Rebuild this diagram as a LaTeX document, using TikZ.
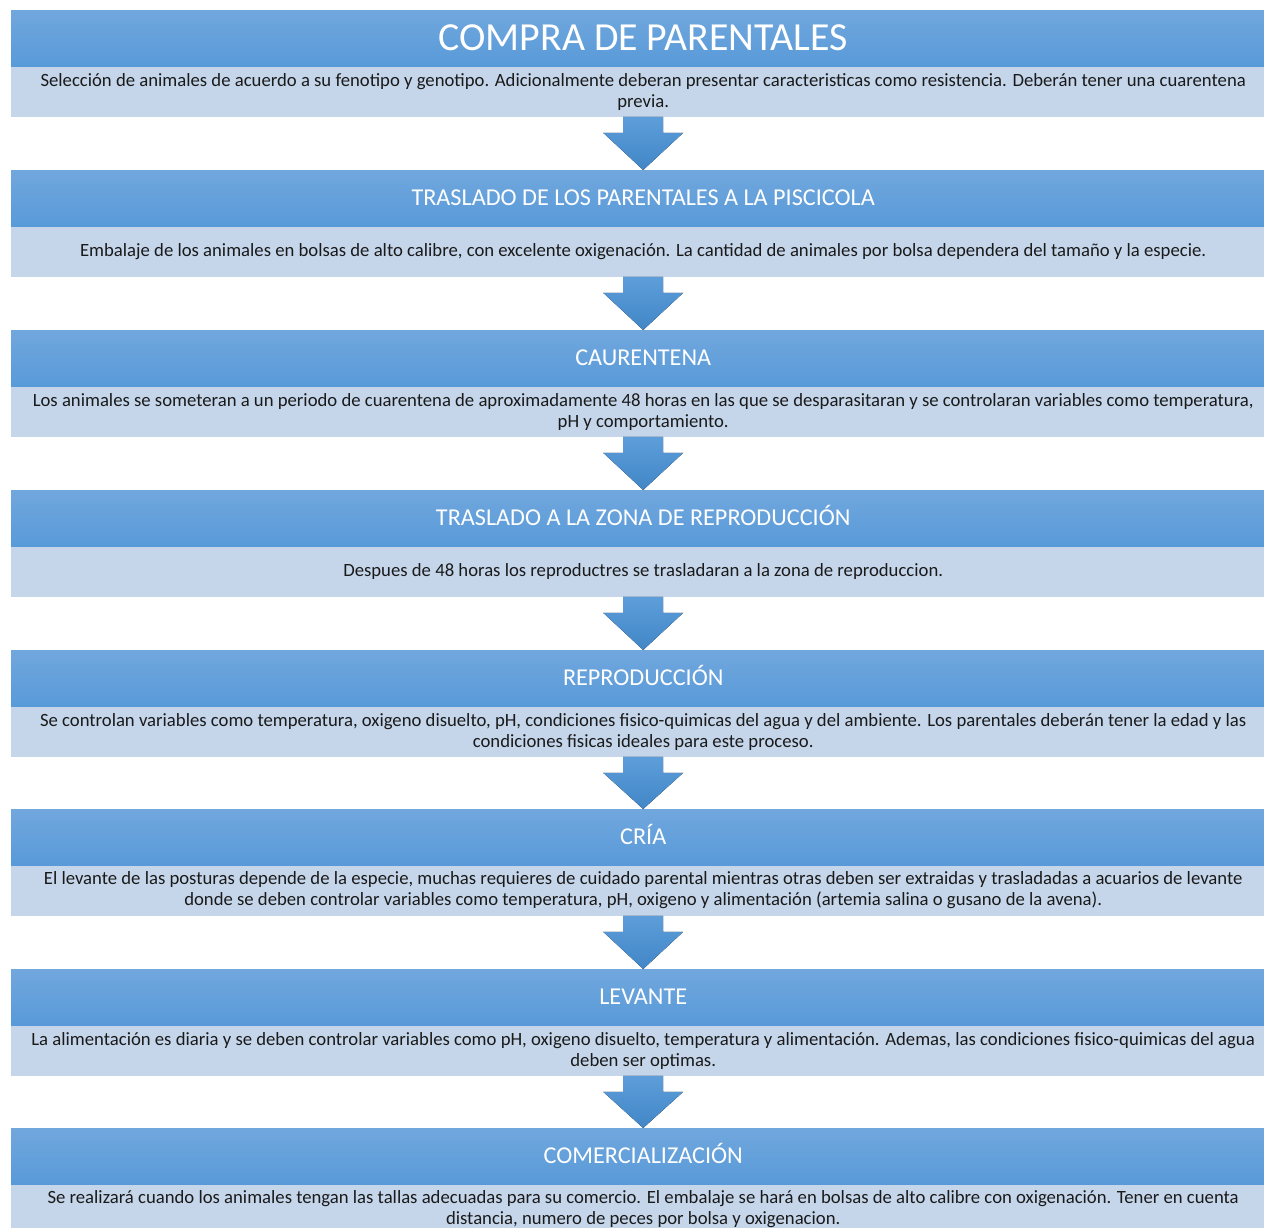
\documentclass[tikz,border=0pt]{standalone}
\usepackage{fontspec}
\setmainfont{Carlito}
\usetikzlibrary{calc}
\definecolor{hdtop}{RGB}{113,167,221}
\definecolor{hdbot}{RGB}{88,154,217}
\definecolor{descfill}{RGB}{197,214,235}
\definecolor{arrtop}{RGB}{93,158,218}
\definecolor{arrbot}{RGB}{66,134,199}
\definecolor{txt}{RGB}{26,26,26}
\tikzset{
  header/.style={rectangle, inner sep=0pt, minimum width=1264pt, minimum height=56pt,
    anchor=north west, top color=hdtop, bottom color=hdbot, text=white,
    text height=15.5pt, text depth=0pt,
    font=\fontsize{24.2}{28}\selectfont},
  desc/.style={rectangle, inner sep=0pt, minimum width=1264pt, minimum height=50pt,
    anchor=north west, fill=descfill, text=txt, align=center,
    font=\fontsize{18.7}{21}\selectfont},
  flowarrow/.style={top color=arrtop, bottom color=arrbot, draw=none}
}
\newcommand{\flowarr}[2]{%
  \fill[flowarrow] ($(#1.south)+(-20,0)$) -- ($(#1.south)+(20,0)$) -- ($(#1.south)+(20,16)$)
    -- ($(#1.south)+(40,16)$) -- (#2.north) -- ($(#1.south)+(-40,16)$)
    -- ($(#1.south)+(-20,16)$) -- cycle;}
\begin{document}
\begin{tikzpicture}[x=1pt,y=-1pt]
\path[use as bounding box, clip] (0,0) rectangle (1264,1228);

\node[header, font=\fontsize{39.8}{44}\selectfont, text height=25.5pt] (h1) at (11,10) {COMPRA DE PARENTALES};
\node[desc] (d1) at (h1.south west) {Selección de animales de acuerdo a su fenotipo y genotipo. Adicionalmente deberan presentar caracteristicas como resistencia. Deberán tener una cuarentena\\previa.};

\node[header] (h2) at (11,170) {TRASLADO DE LOS PARENTALES A LA PISCICOLA};
\node[desc] (d2) at (h2.south west) {Embalaje de los animales en bolsas de alto calibre, con excelente oxigenación. La cantidad de animales por bolsa dependera del tamaño y la especie.};

\node[header] (h3) at (11,330) {CAURENTENA};
\node[desc] (d3) at (h3.south west) {Los animales se someteran a un periodo de cuarentena de aproximadamente 48 horas en las que se desparasitaran y se controlaran variables como temperatura,\\pH y comportamiento.};

\node[header] (h4) at (11,490) {TRASLADO A LA ZONA DE REPRODUCCIÓN};
\node[desc] (d4) at (h4.south west) {Despues de 48 horas los reproductres se trasladaran a la zona de reproduccion.};

\node[header] (h5) at (11,650) {REPRODUCCIÓN};
\node[desc] (d5) at (h5.south west) {Se controlan variables como temperatura, oxigeno disuelto, pH, condiciones fisico-quimicas del agua y del ambiente. Los parentales deberán tener la edad y las\\condiciones fisicas ideales para este proceso.};

\node[header] (h6) at (11,809) {CRÍA};
\node[desc] (d6) at (h6.south west) {El levante de las posturas depende de la especie, muchas requieres de cuidado parental mientras otras deben ser extraidas y trasladadas a acuarios de levante\\donde se deben controlar variables como temperatura, pH, oxigeno y alimentación (artemia salina o gusano de la avena).};

\node[header] (h7) at (11,969) {LEVANTE};
\node[desc] (d7) at (h7.south west) {La alimentación es diaria y se deben controlar variables como pH, oxigeno disuelto, temperatura y alimentación. Ademas, las condiciones fisico-quimicas del agua\\deben ser optimas.};

\node[header] (h8) at (11,1128) {COMERCIALIZACIÓN};
\node[desc] (d8) at (h8.south west) {Se realizará cuando los animales tengan las tallas adecuadas para su comercio. El embalaje se hará en bolsas de alto calibre con oxigenación. Tener en cuenta\\distancia, numero de peces por bolsa y oxigenacion.};

\flowarr{d1}{h2}
\flowarr{d2}{h3}
\flowarr{d3}{h4}
\flowarr{d4}{h5}
\flowarr{d5}{h6}
\flowarr{d6}{h7}
\flowarr{d7}{h8}
\end{tikzpicture}
\end{document}
